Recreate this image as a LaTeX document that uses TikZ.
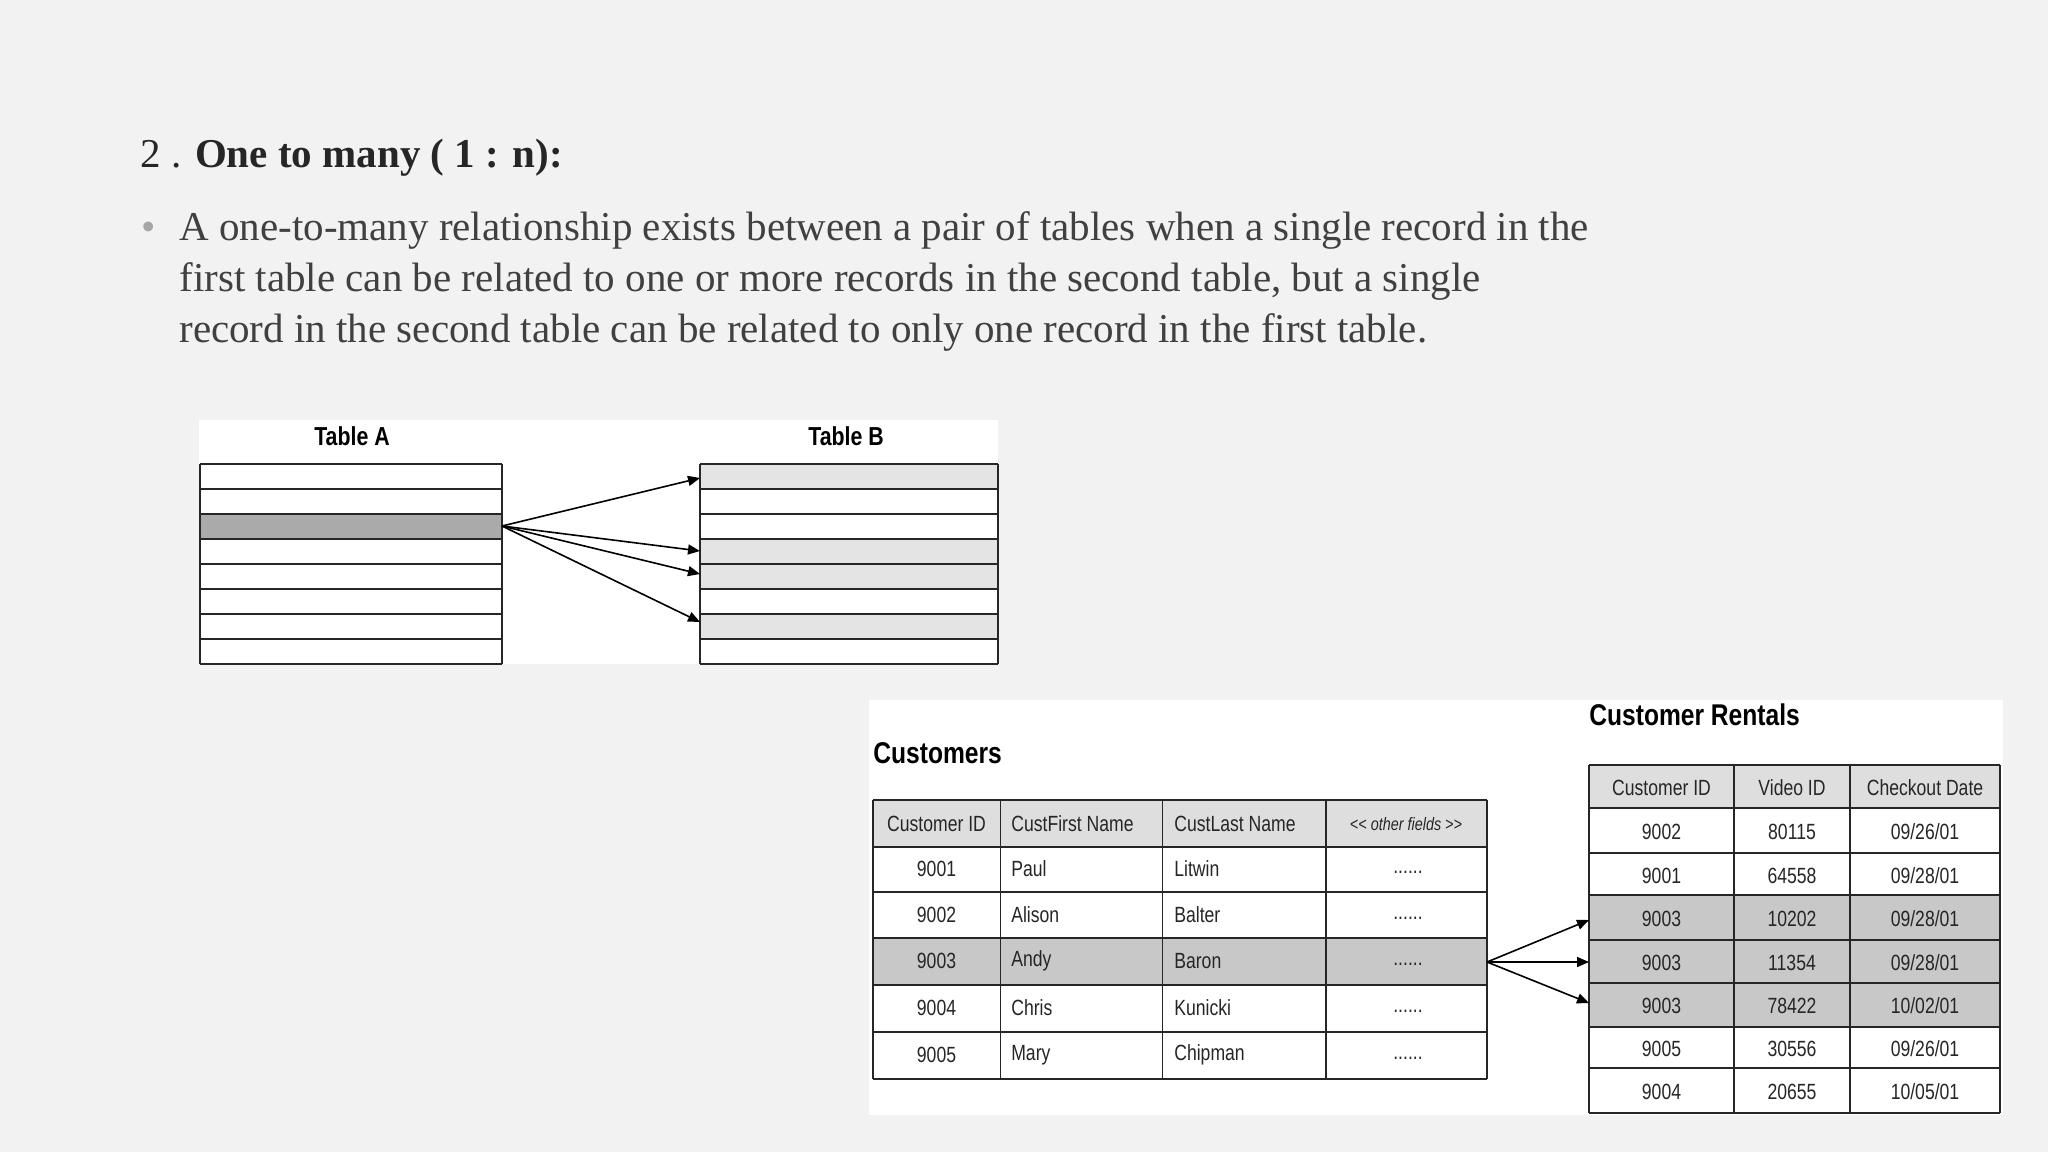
\documentclass[tikz,border=0pt]{standalone}
\usepackage{fontspec}
\setmainfont{Liberation Serif}
\newfontfamily\tabfont{Liberation Sans}
\usetikzlibrary{arrows.meta}
\definecolor{bgc}{HTML}{F2F2F2}
\definecolor{bodyc}{HTML}{404040}
\definecolor{darkrow}{HTML}{AAAAAA}
\definecolor{lightrow}{HTML}{E4E4E4}
\definecolor{hdrc}{HTML}{DEDEDE}
\definecolor{selrow}{HTML}{C8C8C8}
\tikzset{
  grid/.style={draw=black!85, line width=0.9pt},
  cell/.style={font=\tabfont\fontsize{11}{12}\selectfont, xscale=0.8, inner sep=0pt, text=black!85},
  ttl/.style={font=\tabfont\bfseries\fontsize{13}{14}\selectfont, xscale=0.82, inner sep=0pt},
  body/.style={font=\fontsize{20.5}{25.5}\selectfont, text=bodyc, anchor=base west, inner sep=0pt},
  arr/.style={-{Triangle[length=6pt,width=5pt]}, line width=0.8pt}
}
\begin{document}
\begin{tikzpicture}[x=0.5pt,y=-0.5pt]
\fill[bgc] (0,0) rectangle (2048,1152);
\useasboundingbox (0,0) rectangle (2048,1152);
% text
\node[body, text=black!85] (head) at (140,167) {2 . \textbf{One to many ( 1 : n):}};
\node[body, text=black!35] (bul) at (141,240) {\textbullet};
\node[body] (l1) at (179,240) {A one-to-many relationship exists between a pair of tables when a single record in the};
\node[body] (l2) at (179,291) {first table can be related to one or more records in the second table, but a single};
\node[body] (l3) at (179,342) {record in the second table can be related to only one record in the first table.};
% panel 1
\fill[white] (199,420) rectangle (998,664);
\node[ttl] (ta) at (352,436) {Table A};
\node[ttl] (tb) at (846,436) {Table B};
\fill[darkrow] (200,514) rectangle (502,539);
\foreach \r in {0,3,4,6} {\fill[lightrow] (700,464+25*\r) rectangle (998,489+25*\r);}
\foreach \r in {0,...,8} {\draw[grid] (200,464+25*\r) -- (502,464+25*\r); \draw[grid] (700,464+25*\r) -- (998,464+25*\r);}
\draw[grid] (200,464) -- (200,664) (502,464) -- (502,664) (700,464) -- (700,664) (998,464) -- (998,664);
\coordinate (asrc) at (502,526);
\coordinate (b1) at (700,478);
\coordinate (b4) at (700,551);
\coordinate (b5) at (700,574);
\coordinate (b7) at (700,622);
\foreach \t in {b1,b4,b5,b7} {\draw[arr] (asrc) -- (\t);}
% panel 2
\fill[white] (869,700) rectangle (2003,1115);
\node[ttl, font=\tabfont\bfseries\fontsize{15}{16}\selectfont, anchor=west] (ct) at (873,753) {Customers};
\node[ttl, font=\tabfont\bfseries\fontsize{15}{16}\selectfont, anchor=west] (rt) at (1589,715) {Customer Rentals};
% customers table
\fill[hdrc] (873,800) rectangle (1487,847);
\fill[selrow] (873,938) rectangle (1487,985);
\foreach \y in {800,847,892,938,985,1032,1079} {\draw[grid] (873,\y) -- (1487,\y);}
\foreach \x in {873,1000.5,1162.5,1326,1487} {\draw[grid] (\x,800) -- (\x,1079);}
\node[cell] (h1) at (936.5,824) {Customer ID};
\node[cell, anchor=west] (h2) at (1011,824) {CustFirst Name};
\node[cell, anchor=west] (h3) at (1174,824) {CustLast Name};
\node[cell, font=\tabfont\itshape\fontsize{9}{10}\selectfont] (h4) at (1406,824) {<< other fields >>};
\foreach \id/\fn/\ln/\yc [count=\i] in {9001/Paul/Litwin/869, 9002/Alison/Balter/915, 9003/Andy/Baron/961, 9004/Chris/Kunicki/1008, 9005/Mary/Chipman/1055} {
  \node[cell] (cid\i) at (936.5,\yc) {\id};
  \node[cell, anchor=west] (cfn\i) at (1011,\yc) {\fn};
  \node[cell, anchor=west] (cln\i) at (1174,\yc) {\ln};
  \node[cell] (cot\i) at (1408,\yc+3) {......};
}
% rentals table
\fill[hdrc] (1589,765) rectangle (2000,808);
\fill[selrow] (1589,895) rectangle (2000,1027);
\foreach \y in {765,808,853,895,940,983,1027,1068,1113} {\draw[grid] (1589,\y) -- (2000,\y);}
\foreach \x in {1589,1734,1850,2000} {\draw[grid] (\x,765) -- (\x,1113);}
\node[cell] (rh1) at (1661.5,788) {Customer ID};
\node[cell] (rh2) at (1792,788) {Video ID};
\node[cell] (rh3) at (1925,788) {Checkout Date};
\foreach \a/\b/\c/\yc [count=\i] in {9002/80115/09\slash 26\slash 01/832, 9001/64558/09\slash 28\slash 01/876, 9003/10202/09\slash 28\slash 01/919, 9003/11354/09\slash 28\slash 01/963, 9003/78422/10\slash 02\slash 01/1006, 9005/30556/09\slash 26\slash 01/1049, 9004/20655/10\slash 05\slash 01/1092} {
  \node[cell] (ra\i) at (1661.5,\yc) {\a};
  \node[cell] (rb\i) at (1792,\yc) {\b};
  \node[cell] (rc\i) at (1925,\yc) {\c};
}
\coordinate (csrc) at (1487,962);
\coordinate (r3) at (1589,920);
\coordinate (r4) at (1589,962);
\coordinate (r5) at (1589,1003);
\foreach \t in {r3,r4,r5} {\draw[arr] (csrc) -- (\t);}
\end{tikzpicture}
\end{document}
